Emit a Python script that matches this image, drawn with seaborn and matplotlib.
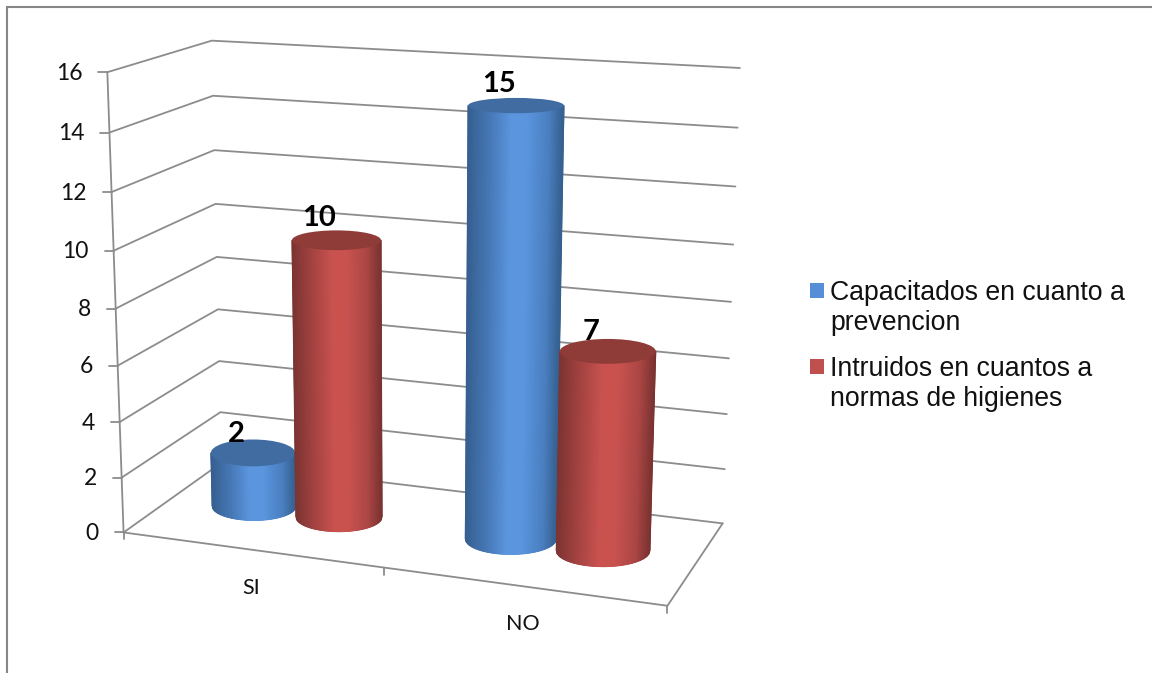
import numpy as np
import pandas as pd
import seaborn as sns
import matplotlib
matplotlib.use("Agg")
import matplotlib.pyplot as plt
from matplotlib.colors import LinearSegmentedColormap
from matplotlib.patches import Ellipse, Patch

# Chart data
categories = ["SI", "NO"]
series_names = ["Capacitados en cuanto a\nprevencion", "Intruidos en cuantos a\nnormas de higienes"]
capacitados = [2, 15]
instruidos = [10, 7]
value_ticks = [0, 2, 4, 6, 8, 10, 12, 14, 16]

# Colours
GRID = "#8c8c8c"
FRAME = "#868686"
BLUE_STOPS = [(0.0, "#365f90"), (0.22, "#4677b4"), (0.45, "#5a95de"), (0.62, "#5a95de"), (0.85, "#4a7fc0"), (1.0, "#35608f")]
RED_STOPS = [(0.0, "#7c3432"), (0.22, "#a34341"), (0.45, "#c9524f"), (0.62, "#c9524f"), (0.85, "#aa4644"), (1.0, "#7a3331")]
BLUE_CAP, RED_CAP = "#416ca2", "#8f3b38"
BLUE_KEY, RED_KEY = "#568fd8", "#c0504d"

# Camera: box corners (across, depth, value) and where they land on the canvas
box_corners = np.array([
    [0, 0, 0], [0, 0, 8], [0, 0, 16],
    [0, 1, 2], [0, 1, 8], [0, 1, 16],
    [1, 1, 0], [1, 1, 8], [1, 1, 16],
    [1, 0, 0],
], dtype=float)
canvas_corners = np.array([
    [124, 533], [116, 308], [107, 72],
    [220, 412], [216.5, 257], [212, 41],
    [723, 523], [731, 302], [740, 68],
    [667, 606],
], dtype=float)


def fit_camera(world, image):
    rows, rhs = [], []
    for (a, b, c), (u, v) in zip(world, image):
        rows.append([a, b, c, 1, 0, 0, 0, 0, -u * a, -u * b, -u * c])
        rows.append([0, 0, 0, 0, a, b, c, 1, -v * a, -v * b, -v * c])
        rhs += [u, v]
    p = np.linalg.lstsq(np.array(rows), np.array(rhs), rcond=None)[0]
    return np.append(p, 1.0).reshape(3, 4)


CAMERA = fit_camera(box_corners, canvas_corners)


def project(a, b, z):
    h = CAMERA @ np.array([a, b, z, 1.0])
    return h[0] / h[2], h[1] / h[2]


sns.set_theme(style="white")
fig, ax = plt.subplots(figsize=(11.52, 6.73), dpi=100)
ax.set_position([0, 0, 1, 1])

# Gridlines on the left and back walls, the floor outline and the value axis
rows = []
for z in value_ticks:
    for order, (a, b) in enumerate([(0, 0), (0, 1), (1, 1)]):
        px, py = project(a, b, z)
        rows.append({"line": f"v{z}", "order": order, "px": px, "py": py})
for order, (a, b) in enumerate([(0, 0), (1, 0), (1, 1)]):
    px, py = project(a, b, 0)
    rows.append({"line": "floor", "order": order, "px": px, "py": py})
for order, z in enumerate([value_ticks[0], value_ticks[-1]]):
    px, py = project(0, 0, z)
    rows.append({"line": "axis", "order": order, "px": px, "py": py})
for z in value_ticks:
    for order, reach in enumerate([0, 9]):
        px, py = project(0, 0, z)
        rows.append({"line": f"t{z}", "order": order, "px": px - reach, "py": py})
for name, a, tip in [("c0", 0.0, 7), ("c1", 0.5, 7), ("c2", 1.0, 7)]:
    for order, drop in enumerate([0, tip]):
        px, py = project(a, 0, 0)
        rows.append({"line": name, "order": order, "px": px, "py": py + drop})
wire = pd.DataFrame(rows)
sns.lineplot(data=wire, x="px", y="py", units="line", estimator=None, sort=False,
             color=GRID, lw=1.3, legend=False, ax=ax, zorder=1)

# Value axis labels
for z in value_ticks:
    px, py = project(0, 0, z)
    ax.text(px - 25, py + 1, str(z), ha="right", va="center", fontsize=16.5,
            family="Lato", color="#111111", zorder=2)


def draw_cylinder(across, value, stops, cap, depth=0.5, radius=0.085, deep=0.2, order=3):
    cmap = LinearSegmentedColormap.from_list("shade", stops)

    def ring(z):
        cx, cy = project(across, depth, z)
        half_w = abs(project(across + radius, depth, z)[0] - project(across - radius, depth, z)[0]) / 2
        half_h = abs(project(across, depth + deep, z)[1] - project(across, depth - deep, z)[1]) / 2
        return cx, cy, half_w, half_h

    bx, by, bw, bh = ring(0)
    tx, ty, tw, th = ring(value)
    u = np.linspace(-1, 1, 121)
    X = np.vstack([tx + tw * u, bx + bw * u])
    Y = np.vstack([np.full_like(u, ty), by + bh * np.sqrt(1 - u ** 2)])
    C = np.vstack([u, u])
    ax.pcolormesh(X, Y, C, shading="gouraud", cmap=cmap, vmin=-1, vmax=1, zorder=order)
    ax.add_patch(Ellipse((tx, ty), 2 * tw, 2 * th, fc=cap, ec="none", zorder=order + 0.1))
    return tx, ty


# Each category holds a blue and a red cylinder side by side
group_centres = [0.248, 0.748]
offset = 0.085
label_lift = [(19, 22), (22, 19)]
for i in range(len(categories)):
    left = draw_cylinder(group_centres[i] - offset, capacitados[i], BLUE_STOPS, BLUE_CAP, order=3 + 2 * i)
    right = draw_cylinder(group_centres[i] + offset, instruidos[i], RED_STOPS, RED_CAP, order=4 + 2 * i)
    for (tx, ty), value, lift in zip([left, right], [capacitados[i], instruidos[i]], label_lift[i]):
        # the short red bar in NO sits in front of its own label
        ax.annotate(str(value), (tx, ty), xytext=(-17, lift), textcoords="offset pixels",
                    ha="center", va="center", fontsize=21, fontweight="bold",
                    family="Lato", color="black",
                    zorder=(4 + 2 * i - 0.5) if value == 7 else 9)

# Category labels below the floor
for name, a in zip(categories, [0.25, 0.75]):
    px, py = project(a, 0, 0)
    ax.text(px, py + 38, name, ha="center", va="center", fontsize=15.5,
            family="Lato", color="#111111", zorder=2)

# Legend, with each key level with the first line of its label
handles = [Patch(fc=BLUE_KEY, ec="none"), Patch(fc=RED_KEY, ec="none")]
leg = ax.legend(handles, series_names, loc="upper left", bbox_to_anchor=(0.7031, 0.584),
                frameon=False, handlelength=0.525, handleheight=0.525,
                handletextpad=0.225, labelspacing=0.73, borderpad=0, borderaxespad=0,
                prop={"family": "Liberation Sans", "size": 19.2})
for text in leg.get_texts():
    text.set_linespacing(1.22)
    text.set_color("#111111")
for key in leg.legend_handles:
    key.set_y(key.get_y() + 13.1)

# Outer chart frame
ax.plot([6.5, 6.5, 1152], [673, 6.5, 6.5], color=FRAME, lw=1.5, zorder=1, solid_joinstyle="miter")

ax.set_xlim(0, 1152)
ax.set_ylim(673, 0)
ax.set_axis_off()
fig.savefig("out.png", dpi=100, facecolor="white")
